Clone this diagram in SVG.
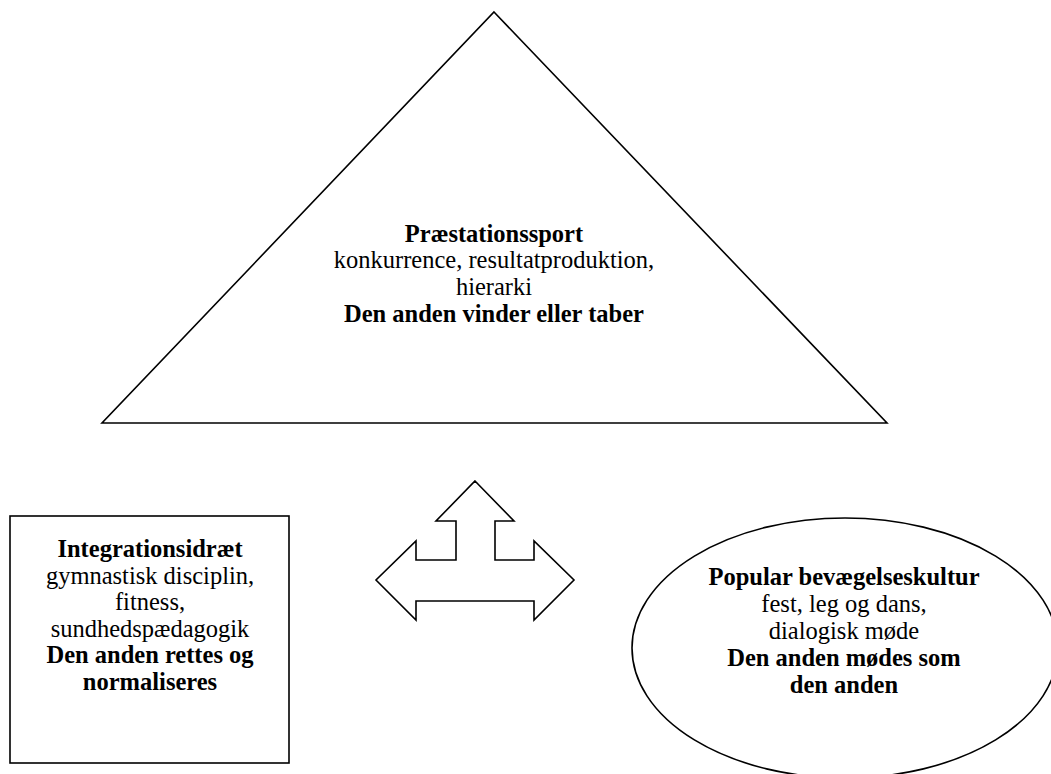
<svg xmlns="http://www.w3.org/2000/svg" width="1051" height="774" viewBox="0 0 1051 774">
<style>
.shape{fill:#fff;stroke:#000;stroke-width:1.6}
text{font-family:"Liberation Serif","Times New Roman",serif;font-size:24.5px;fill:#000;text-anchor:middle}
.b{font-weight:bold}
</style>
<rect width="1051" height="774" fill="#fff"/>
<g id="praestationssport">
<polygon class="shape" points="494,12 887,423 102,423"/>
<text x="494" y="242" class="b">Præstationssport</text>
<text x="494" y="268">konkurrence, resultatproduktion,</text>
<text x="494" y="295">hierarki</text>
<text x="494" y="322" class="b">Den anden vinder eller taber</text>
</g>
<g id="integrationsidraet">
<rect class="shape" x="10" y="516" width="279" height="247"/>
<text x="150" y="557" class="b">Integrationsidræt</text>
<text x="150" y="584">gymnastisk disciplin,</text>
<text x="150" y="610">fitness,</text>
<text x="150" y="637">sundhedspædagogik</text>
<text x="150" y="663" class="b">Den anden rettes og</text>
<text x="150" y="690" class="b">normaliseres</text>
</g>
<g id="popular">
<ellipse class="shape" cx="845" cy="648" rx="213" ry="130"/>
<text x="844" y="585" class="b">Popular bevægelseskultur</text>
<text x="844" y="612">fest, leg og dans,</text>
<text x="844" y="639">dialogisk møde</text>
<text x="844" y="666" class="b">Den anden mødes som</text>
<text x="844" y="693" class="b">den anden</text>
</g>
<g id="connectors">
<path class="shape" d="M475,481 L514,521 L495,521 L495,560 L534,560 L534,541 L574,580 L534,620 L534,601 L416,601 L416,620 L376,580 L416,541 L416,560 L456,560 L456,521 L436,521 Z"/>
</g>
</svg>
